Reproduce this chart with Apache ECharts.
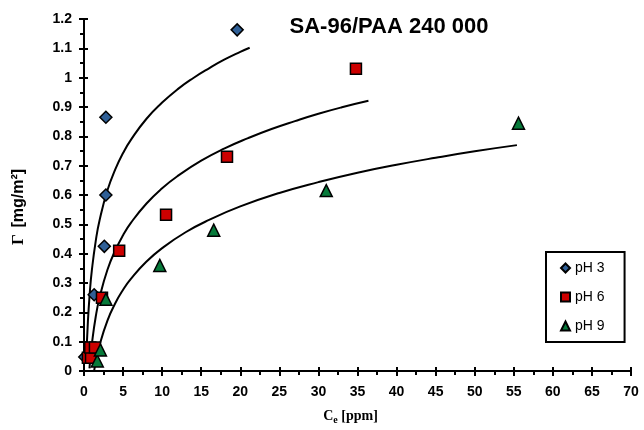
<!DOCTYPE html>
<html>
<head>
<meta charset="utf-8">
<script src="https://cdn.jsdelivr.net/npm/echarts@6/dist/echarts.min.js"></script>
<style>
  html, body { margin: 0; padding: 0; background: #fff; }
  #chart { width: 644px; height: 430px; }
</style>
</head>
<body>
<div id="chart"></div>
<script>
// measured points [Ce, Gamma]
const ph3Points = [[0.1, 0.048], [1.3, 0.26], [2.6, 0.425], [2.8, 0.60], [2.8, 0.865], [19.6, 1.163]];
const ph6Points = [[0.5, 0.045], [0.9, 0.045], [0.8, 0.08], [1.4, 0.08], [2.3, 0.25], [4.5, 0.41],
  [10.5, 0.533], [18.3, 0.73], [34.8, 1.03]];
const ph9Points = [[1.7, 0.034], [2.1, 0.072], [2.8, 0.245], [9.7, 0.36], [16.6, 0.48], [31.0, 0.615], [55.6, 0.845]];

// fitted curves
const ph3Curve = [[0.3, 0.042], [0.5, 0.169], [0.75, 0.27], [1, 0.342], [1.5, 0.443], [2, 0.515], [3, 0.616],
  [4, 0.687], [5, 0.743], [6, 0.788], [8, 0.86], [10, 0.915], [12, 0.961], [14, 0.999], [16, 1.032],
  [18, 1.062], [20, 1.088], [21.2, 1.102]];
const ph6Curve = [[0.7, 0.009], [0.8, 0.039], [1, 0.091], [1.5, 0.185], [2, 0.251], [3, 0.345], [4, 0.411],
  [5, 0.463], [6, 0.505], [8, 0.571], [10, 0.623], [12, 0.665], [15, 0.717], [18, 0.759], [21, 0.794],
  [24, 0.825], [27, 0.852], [30, 0.877], [33, 0.899], [36.4, 0.921]];
const ph9Curve = [[1.3, 0.001], [1.5, 0.03], [2, 0.089], [3, 0.172], [4, 0.231], [5, 0.277], [6, 0.314],
  [8, 0.373], [10, 0.419], [13, 0.473], [16, 0.515], [20, 0.561], [25, 0.607], [30, 0.644], [35, 0.676],
  [40, 0.703], [45, 0.727], [50, 0.749], [55.4, 0.77]];

const seriesNames = ['pH 3', 'pH 6', 'pH 9'];

const chart = echarts.init(document.getElementById('chart'), null, { renderer: 'canvas' });

const tickFont = { fontFamily: 'Liberation Sans', fontWeight: 'bold', fontSize: 14, color: '#000' };

function curve(data) {
  return {
    type: 'line',
    data: data,
    showSymbol: false,
    smooth: true,
    silent: true,
    lineStyle: { color: '#000', width: 2 },
    z: 1
  };
}

function points(name, data, symbol, size, color) {
  return {
    name: name,
    type: 'scatter',
    data: data,
    symbol: symbol,
    symbolSize: size,
    itemStyle: { color: color, opacity: 1, borderColor: '#000', borderWidth: 1.5 },
    z: 3
  };
}

chart.setOption({
  animation: false,
  backgroundColor: '#fff',
  title: {
    text: 'SA-96/PAA 240 000',
    left: 384,
    top: 11,
    textAlign: 'center',
    textStyle: { fontFamily: 'Liberation Sans', fontWeight: 'bold', fontSize: 22, color: '#000' }
  },
  legend: {
    data: seriesNames,
    orient: 'vertical',
    left: 546,
    top: 252,
    padding: [9, 20, 9, 14],
    itemGap: 15,
    itemWidth: 9,
    itemHeight: 9,
    itemTextGap: 3,
    borderColor: '#000',
    borderWidth: 2,
    textStyle: { fontFamily: 'Liberation Sans', fontSize: 14, color: '#000' }
  },
  grid: { left: 84, right: 13, top: 19, bottom: 59 },
  xAxis: [{
    type: 'value',
    min: 0,
    max: 70,
    interval: 5,
    name: '{c|C}{s|e}{c| [ppm]}',
    nameLocation: 'middle',
    nameGap: 36,
    nameTextStyle: {
      padding: [0, 14, 0, 0],
      rich: {
        c: { fontFamily: 'Liberation Serif', fontWeight: 'bold', fontSize: 14, color: '#000', lineHeight: 18 },
        s: { fontFamily: 'Liberation Serif', fontWeight: 'bold', fontSize: 10, color: '#000', lineHeight: 18, verticalAlign: 'bottom' }
      }
    },
    axisLine: { onZero: false, lineStyle: { color: '#000', width: 2 } },
    axisTick: { length: 5, lineStyle: { color: '#000', width: 2 } },
    minorTick: { show: true, splitNumber: 2, length: 4, lineStyle: { color: '#000', width: 2 } },
    splitLine: { show: false },
    axisLabel: Object.assign({ margin: 14 }, tickFont)
  }, {
    type: 'value',
    min: 0,
    max: 70,
    interval: 5,
    position: 'bottom',
    axisLine: { show: false },
    axisTick: { inside: true, length: 4, lineStyle: { color: '#000', width: 2 } },
    axisLabel: { show: false },
    splitLine: { show: false }
  }],
  yAxis: [{
    type: 'value',
    min: 0,
    max: 1.2,
    interval: 0.1,
    name: '{g|Γ}  {t|[mg/m²]}',
    nameLocation: 'middle',
    nameGap: 57,
    nameTextStyle: {
      padding: [0, 24, 0, 0],
      rich: {
        g: { fontFamily: 'Liberation Serif', fontWeight: 'bold', fontSize: 17, color: '#000' },
        t: { fontFamily: 'Liberation Sans', fontWeight: 'bold', fontSize: 16, color: '#000' }
      }
    },
    axisLine: { onZero: false, lineStyle: { color: '#000', width: 2 } },
    axisTick: { length: 5, lineStyle: { color: '#000', width: 2 } },
    minorTick: { show: true, splitNumber: 2, length: 4, lineStyle: { color: '#000', width: 2 } },
    splitLine: { show: false },
    axisLabel: Object.assign({
      margin: 12,
      formatter: function (v) { return String(Math.round(v * 10) / 10); }
    }, tickFont)
  }, {
    type: 'value',
    min: 0,
    max: 1.2,
    interval: 0.1,
    position: 'left',
    axisLine: { show: false },
    axisTick: { inside: true, length: 4, lineStyle: { color: '#000', width: 2 } },
    axisLabel: { show: false },
    splitLine: { show: false }
  }],
  series: [
    curve(ph3Curve),
    curve(ph6Curve),
    curve(ph9Curve),
    points(seriesNames[0], ph3Points, 'diamond', 12, '#2f5f96'),
    points(seriesNames[1], ph6Points, 'rect', 11, '#cc0000'),
    points(seriesNames[2], ph9Points, 'triangle', 12, '#077a3a')
  ]
});

window.addEventListener('resize', () => chart.resize());
</script>
</body>
</html>
